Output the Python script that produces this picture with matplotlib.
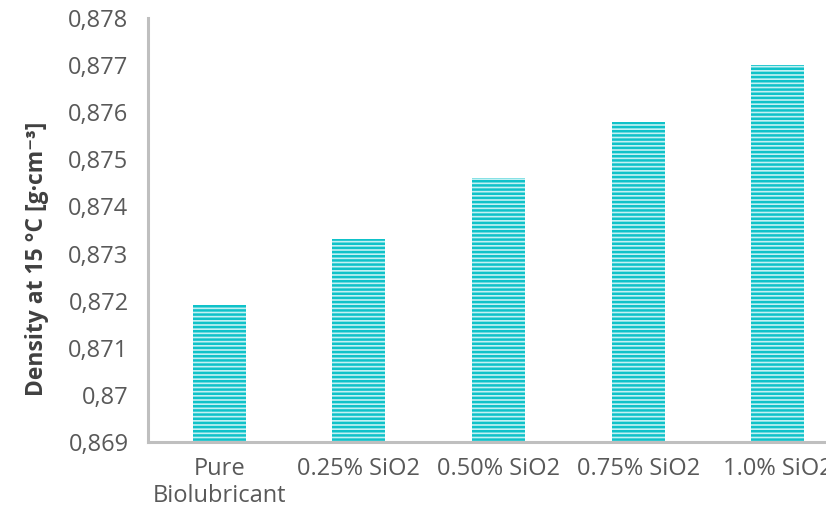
import numpy as np
import matplotlib.pyplot as plt

categories = ['Pure\nBiolubricant', '0.25% SiO2', '0.50% SiO2', '0.75% SiO2', '1.0% SiO2']
density = [0.8719, 0.8733, 0.8746, 0.8758, 0.8770]
y_ticks = [0.869, 0.870, 0.871, 0.872, 0.873, 0.874, 0.875, 0.876, 0.877, 0.878]
y_tick_labels = ['0,869', '0,87', '0,871', '0,872', '0,873', '0,874', '0,875', '0,876', '0,877', '0,878']

plt.rcParams['font.family'] = ['Open Sans', 'DejaVu Sans']
plt.rcParams['hatch.linewidth'] = 1.8

fig = plt.figure(figsize=(8.26, 5.16), dpi=100)
ax = fig.add_axes([148 / 826, 1 - 442 / 516, 701 / 826, 424 / 516])

x = np.arange(len(categories))
ax.bar(x, density, width=0.38, bottom=0, color='#c4f1f3', edgecolor='#0fc2c9',
       hatch='----', linewidth=0)

ax.set_xlim(-0.51, 4.51)
ax.set_ylim(0.869, 0.878)
ax.set_yticks(y_ticks)
ax.set_yticklabels(y_tick_labels)
ax.set_xticks(x)
ax.set_xticklabels(categories, linespacing=1.15)

ax.tick_params(axis='both', length=0, labelsize=17, labelcolor='#595959')
ax.tick_params(axis='y', pad=14)
ax.tick_params(axis='x', pad=11)

for side in ['top', 'right']:
    ax.spines[side].set_visible(False)
for side in ['left', 'bottom']:
    ax.spines[side].set_color('#bfbfbf')
    ax.spines[side].set_linewidth(2.2)

fig.text(37 / 826, 1 - 259 / 516, 'Density at 15 °C [g·cm⁻³]', rotation=90,
         ha='center', va='center', fontsize=16.5, fontweight='bold', color='#404040')

fig.savefig('out.png', dpi=100)
